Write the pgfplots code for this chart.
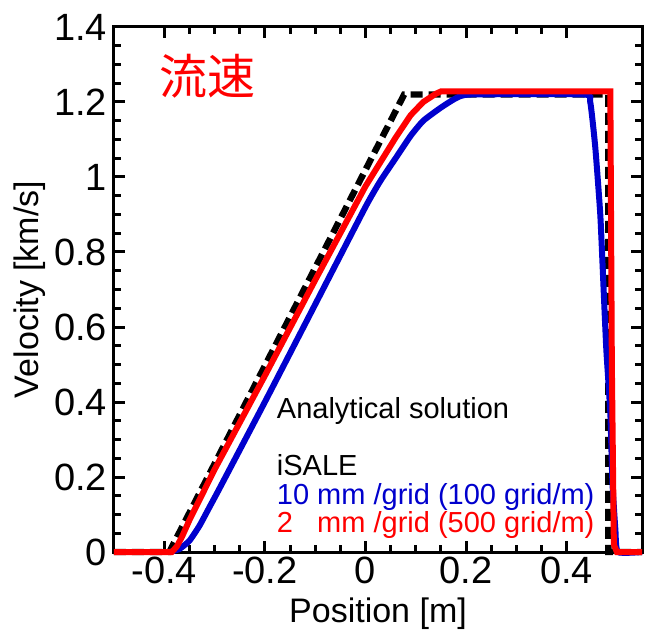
\documentclass[border=0pt]{standalone}
\usepackage{pgfplots}
\pgfplotsset{compat=1.18}
\usepackage{fontspec}
\setmainfont{Liberation Sans}
\newfontfamily\cjk{Noto Sans CJK JP}
\definecolor{myblue}{RGB}{0,0,205}
\definecolor{myred}{RGB}{255,0,0}
\begin{document}
\begin{tikzpicture}
\useasboundingbox (-57pt,-39.5pt) rectangle (266pt,276pt);
\begin{axis}[
  scale only axis, width=264pt, height=262.5pt,
  xmin=-0.5, xmax=0.55, ymin=0, ymax=1.4,
  xtick={-0.4,-0.2,0,0.2,0.4},
  ytick={0,0.2,0.4,0.6,0.8,1,1.2,1.4},
  minor x tick num=3, minor y tick num=3,
  tick align=inside, major tick length=5.5pt, minor tick length=3.5pt,
  every tick/.style={line width=1.5pt, black},
  axis line style={line width=1.5pt},
  clip=false,
  /pgf/number format/assume math mode=true,
  /pgf/number format/fixed,
  ticklabel style={font=\fontsize{19}{22}\selectfont},
  xticklabel style={yshift=1pt},
  xlabel={Position [m]}, ylabel={Velocity [km/s]},
  label style={font=\fontsize{17}{20}\selectfont},
  xlabel style={at={(axis description cs:0.5,-0.118)}, anchor=center},
  ylabel style={at={(axis description cs:-0.16,0.5)}, anchor=center},
]
% analytical solution
\addplot[black, line width=3.2pt, dash pattern=on 6pt off 3pt] coordinates {
(-0.5,0) (-0.39,0) (0.077,1.22) (0.483,1.22) (0.483,0) (0.55,0)};
% 10 mm/grid
\addplot[myblue, line width=3pt, smooth, tension=0.3] coordinates {
(-0.39,0) (-0.37,0.008) (-0.35,0.03) (-0.33,0.07) (-0.31,0.12) (-0.29,0.17)
(-0.2,0.40) (-0.1,0.66) (0,0.92) (0.03,0.99) (0.06,1.05) (0.09,1.11)
(0.115,1.15) (0.15,1.185) (0.18,1.21) (0.21,1.22) (0.434,1.22)
(0.447,1.20) (0.457,1.08) (0.467,0.90) (0.473,0.72) (0.479,0.54)
(0.487,0.37) (0.491,0.19) (0.497,0.06) (0.502,0) (0.55,0)};
% 2 mm/grid
\addplot[myred, line width=3pt] coordinates {
(-0.5,0) (-0.385,0) (-0.375,0.015) (-0.365,0.04) (-0.35,0.085) (-0.3,0.22)
(-0.2,0.47) (-0.1,0.725) (0,0.975) (0.03,1.04) (0.06,1.105) (0.09,1.165)
(0.115,1.2) (0.14,1.222) (0.15,1.228) (0.487,1.228) (0.49,0.5)
(0.494,0.02) (0.5,0) (0.55,0)};
\node[anchor=base west, font=\fontsize{14.5}{17}\selectfont] at (axis cs:-0.19,0.355) {Analytical solution};
\node[anchor=base west, font=\fontsize{14.5}{17}\selectfont] at (axis cs:-0.19,0.203) {iSALE};
\node[anchor=base west, font=\fontsize{14.5}{17}\selectfont, text=myblue] at (axis cs:-0.19,0.128) {10 mm /grid (100 grid/m)};
\node[anchor=base west, font=\fontsize{14.5}{17}\selectfont, text=myred] at (axis cs:-0.19,0.053) {2\hphantom{0} mm /grid (500 grid/m)};
\node[anchor=center, font=\fontsize{24}{28}\selectfont\cjk, text=myred] at (axis cs:-0.315,1.27) {流速};
\end{axis}
\end{tikzpicture}
\end{document}
